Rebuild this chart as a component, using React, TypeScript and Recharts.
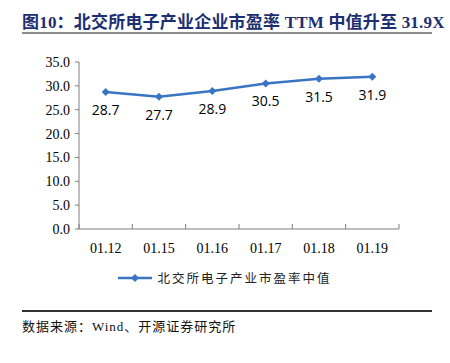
import React from 'react';
import { LineChart, Line, XAxis, YAxis, LabelList, Legend } from 'recharts';

const dates = ['01.12', '01.15', '01.16', '01.17', '01.18', '01.19'];
const peMedian = [28.7, 27.7, 28.9, 30.5, 31.5, 31.9];
const yTicks = [0, 5, 10, 15, 20, 25, 30, 35];

const SERIES_NAME = '北交所电子产业市盈率中值';
const LINE_COLOR = '#3a75c4';
const AXIS_COLOR = '#7f7f7f';

const CHART_W = 450;
const MARGIN = { top: 62, right: 51, bottom: 41, left: 0 };
const Y_AXIS_W = 79;
const X_TICK_GAP = 14;
// width of one category band, for the boundary tick marks
const BAND = (CHART_W - MARGIN.left - MARGIN.right - Y_AXIS_W) / dates.length;

const data = dates.map((d, i) => ({ date: d, value: peMedian[i] }));

const Diamond = (props: any) => {
  const { cx, cy } = props;
  if (cx == null || cy == null) return null;
  const r = 4;
  return (
    <path
      d={`M${cx},${cy - r}L${cx + r},${cy}L${cx},${cy + r}L${cx - r},${cy}Z`}
      fill={LINE_COLOR}
      stroke="none"
    />
  );
};

const CategoryTick = (props: any) => {
  const { x, y, payload, index } = props;
  const axisY = y - X_TICK_GAP;
  return (
    <g>
      <line x1={x - BAND / 2} y1={axisY} x2={x - BAND / 2} y2={axisY - 5} stroke={AXIS_COLOR} />
      {index === dates.length - 1 && (
        <line x1={x + BAND / 2} y1={axisY} x2={x + BAND / 2} y2={axisY - 5} stroke={AXIS_COLOR} />
      )}
      <text
        x={x}
        y={y}
        dy="0.71em"
        textAnchor="middle"
        fill="#000"
        fontSize={14}
        fontFamily='"Liberation Serif", serif'
      >
        {payload.value}
      </text>
    </g>
  );
};

const LegendContent = () => (
  <div style={{ display: 'flex', alignItems: 'center', justifyContent: 'center' }}>
    <svg width={34} height={12} style={{ marginRight: 5 }}>
      <line x1={0} y1={6} x2={34} y2={6} stroke={LINE_COLOR} strokeWidth={2.5} />
      <path d="M17,2L21,6L17,10L13,6Z" fill={LINE_COLOR} />
    </svg>
    <span
      style={{
        fontFamily: '"Noto Sans CJK SC", sans-serif',
        fontSize: 12.5,
        letterSpacing: 2,
        color: '#222',
      }}
    >
      {SERIES_NAME}
    </span>
  </div>
);

export default function App() {
  return (
    <div
      style={{
        position: 'absolute',
        left: 0,
        top: 0,
        width: 450,
        height: 363,
        background: '#fff',
      }}
    >
      <div
        style={{
          position: 'absolute',
          left: 22,
          top: 8,
          fontFamily: '"Liberation Serif", "Noto Sans CJK SC", serif',
          fontWeight: 'bold',
          fontSize: 17,
          letterSpacing: 0.2,
          color: '#1c2f72',
          whiteSpace: 'nowrap',
        }}
      >
        图10：北交所电子产业企业市盈率 TTM 中值升至 31.9X
      </div>
      <div
        style={{
          position: 'absolute',
          left: 22,
          top: 32,
          width: 410,
          height: 2,
          background: '#8c8c8c',
        }}
      />

      <div style={{ position: 'absolute', left: 0, top: 0 }}>
        <LineChart width={CHART_W} height={300} data={data} margin={MARGIN}>
          <XAxis
            dataKey="date"
            scale="band"
            interval={0}
            tickLine={false}
            tickSize={0}
            tickMargin={X_TICK_GAP}
            axisLine={{ stroke: AXIS_COLOR }}
            tick={<CategoryTick />}
            height={30}
          />
          <YAxis
            domain={[0, 35]}
            ticks={yTicks}
            interval={0}
            width={Y_AXIS_W}
            tickFormatter={(v: number) => v.toFixed(1)}
            axisLine={{ stroke: AXIS_COLOR }}
            tickLine={{ stroke: AXIS_COLOR }}
            tickSize={4}
            tickMargin={5}
            tick={{ fill: '#000', fontSize: 14, fontFamily: '"Liberation Serif", serif' }}
          />
          <Legend
            layout="horizontal"
            align="center"
            verticalAlign="middle"
            wrapperStyle={{ top: 268, left: 0, width: 450 }}
            content={<LegendContent />}
          />
          <Line
            type="linear"
            dataKey="value"
            name={SERIES_NAME}
            stroke={LINE_COLOR}
            strokeWidth={2.5}
            dot={<Diamond />}
            activeDot={false}
            isAnimationActive={false}
          >
            <LabelList
              dataKey="value"
              position="bottom"
              offset={13}
              formatter={(v: number) => v.toFixed(1)}
              style={{ fill: '#000', fontSize: 14, fontFamily: '"Open Sans", sans-serif' }}
            />
          </Line>
        </LineChart>
      </div>

      <div
        style={{
          position: 'absolute',
          left: 22,
          top: 310,
          width: 410,
          height: 1.5,
          background: '#333',
        }}
      />
      <div
        style={{
          position: 'absolute',
          left: 22,
          top: 316,
          fontFamily: '"Liberation Serif", "Noto Sans CJK SC", serif',
          fontSize: 13,
          letterSpacing: 1,
          color: '#111',
          whiteSpace: 'nowrap',
        }}
      >
        数据来源：Wind、开源证券研究所
      </div>
    </div>
  );
}
